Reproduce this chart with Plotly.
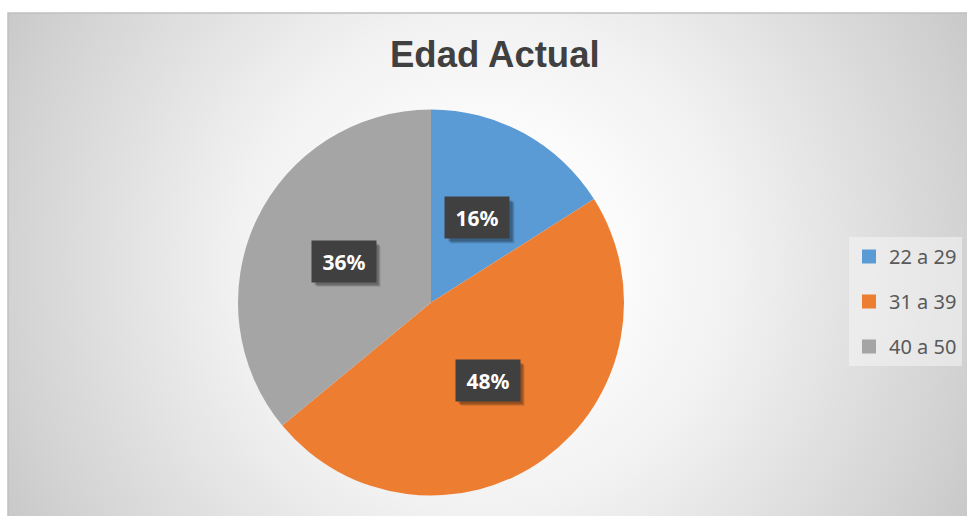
import math
import plotly.graph_objects as go

# ---- data ----
categories = ["22 a 29", "31 a 39", "40 a 50"]
values = [16, 48, 36]
colors = ["#5B9BD5", "#ED7D31", "#A5A5A5"]
title_text = "Edad Actual"

W, H = 967, 516

# pie placement (pixels)
pie_cx, pie_cy, pie_r = 431, 302.5, 193
dom_x = [(pie_cx - pie_r) / W, (pie_cx + pie_r) / W]
dom_y = [(H - pie_cy - pie_r) / H, (H - pie_cy + pie_r) / H]

fig = go.Figure()
fig.add_trace(go.Pie(
    labels=categories, values=values, sort=False, direction="clockwise",
    rotation=0, marker=dict(colors=colors, line=dict(width=0)),
    textinfo="none", hoverinfo="label+percent", showlegend=False,
    domain=dict(x=dom_x, y=dom_y),
))

# legend entries as separate groups for item spacing
for i, (c, col) in enumerate(zip(categories, colors)):
    fig.add_trace(go.Scatter(
        x=[None], y=[None], mode="markers", name=c,
        marker=dict(symbol="square", size=14, color=col),
        legendgroup=f"g{i}", showlegend=True,
    ))

# labels with dark boxes
total = sum(values)
annotations = []
shapes = []
bw, bh = 32, 20.5  # half box size in px
acc = 0
for v in values:
    mid = (acc + v / 2) / total * 2 * math.pi
    acc += v
    px = pie_cx + 0.5 * pie_r * math.sin(mid)
    py = pie_cy - 0.5 * pie_r * math.cos(mid)
    pct = f"{round(v / total * 100)}%"
    # soft shadow
    for k, a in ((5, 0.10), (4, 0.14), (3, 0.18)):
        shapes.append(dict(
            type="rect", xref="paper", yref="paper", layer="above",
            x0=(px - bw + k) / W, x1=(px + bw + k) / W,
            y0=1 - (py + bh + k) / H, y1=1 - (py - bh + k) / H,
            fillcolor=f"rgba(0,0,0,{a})", line=dict(width=0),
        ))
    annotations.append(dict(
        x=px / W, y=1 - py / H, xref="paper", yref="paper", showarrow=False,
        xanchor="center", yanchor="middle",
        text=f"<b>{pct}</b>", font=dict(size=21, color="white", family="Noto Sans"),
        bgcolor="#404040", width=48, height=25, borderpad=8,
    ))

annotations.append(dict(
    x=495 / W, y=1 - 55 / H, xref="paper", yref="paper", showarrow=False,
    text=f"<b>{title_text}</b>", xanchor="center", yanchor="middle",
    font=dict(size=36.5, color="#404040", family="Liberation Sans"),
))

svg = (
    "<svg xmlns='http://www.w3.org/2000/svg' width='959' height='503' viewBox='0 0 959 503' preserveAspectRatio='none'>"
    "<defs><radialGradient id='g' gradientUnits='userSpaceOnUse' cx='478' cy='250' r='560'>"
    "<stop offset='0' stop-color='#ffffff'/>"
    "<stop offset='0.2' stop-color='#fdfdfd'/>"
    "<stop offset='0.45' stop-color='#f1f1f1'/>"
    "<stop offset='0.86' stop-color='#d2d2d2'/>"
    "<stop offset='1' stop-color='#c6c6c6'/>"
    "</radialGradient></defs>"
    "<rect x='0' y='0' width='959' height='503' fill='url(#g)'/></svg>"
)
src = "data:image/svg+xml;utf8," + (svg.replace("#", "%23").replace("<", "%3C")
                                    .replace(">", "%3E").replace("'", "%27"))

shapes.insert(0, dict(type="rect", xref="paper", yref="paper", x0=8 / W, x1=1.05,
                      y0=-0.05, y1=1 - 13 / H, line=dict(color="#c0c0c0", width=1.5),
                      fillcolor="rgba(0,0,0,0)", layer="below"))

fig.update_layout(
    width=W, height=H, margin=dict(l=0, r=0, t=0, b=0),
    paper_bgcolor="white", plot_bgcolor="rgba(0,0,0,0)",
    xaxis=dict(visible=False), yaxis=dict(visible=False),
    images=[dict(source=src, xref="paper", yref="paper", x=8 / W, y=1 - 13 / H,
                 sizex=(W - 8) / W, sizey=(H - 13) / H, xanchor="left", yanchor="top",
                 sizing="stretch", layer="below")],
    shapes=shapes,
    legend=dict(x=849 / W, y=1 - 237 / H, xanchor="left", yanchor="top",
                bgcolor="rgba(245,245,245,0.55)", tracegroupgap=16,
                font=dict(size=20, color="#595959", family="Noto Sans"),
                itemclick=False),
    annotations=annotations,
)

fig.write_html("out.html")
